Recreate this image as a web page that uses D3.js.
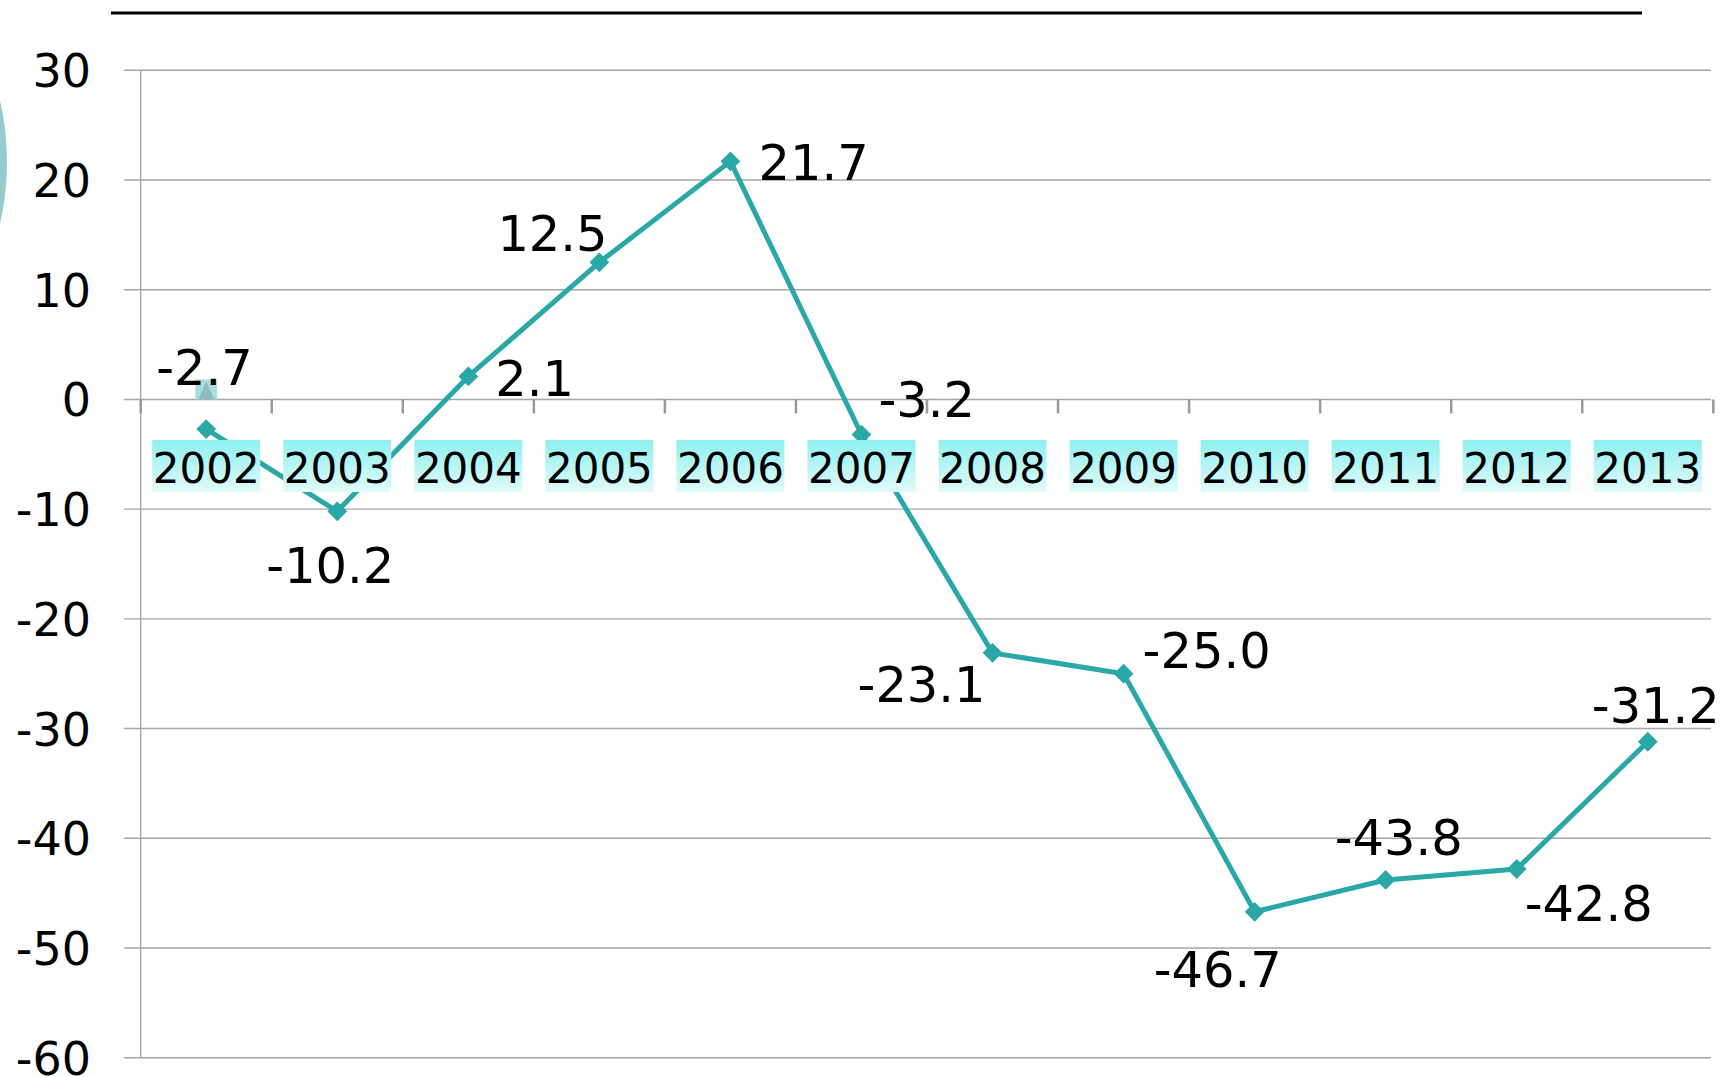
<!DOCTYPE html>
<html>
<head>
<meta charset="utf-8">
<script src="https://cdn.jsdelivr.net/npm/d3@7"></script>
<style>
  html, body { margin: 0; padding: 0; background: #fff; }
  svg { display: block; }
</style>
</head>
<body>
<svg id="chart"></svg>
<script>
// data
const years = ["2002","2003","2004","2005","2006","2007","2008","2009","2010","2011","2012","2013"];
const values = [-2.7, -10.2, 2.1, 12.5, 21.7, -3.2, -23.1, -25.0, -46.7, -43.8, -42.8, -31.2];
const yTicks = [30, 20, 10, 0, -10, -20, -30, -40, -50, -60];

const width = 1728, height = 1077;
const line_color = "#2aa8a8";
const grid_color = "#a6a6a6";

// label offsets from the point (left edge, baseline), placed by hand like the original
const label_dx = [-50, -71, 27, -102, 28, 17, -135, 19, -101, -51, 8, -56];
const label_dy = [-44, 72, 20, -11, 19, -18, 49, -6, 75, -25, 52, -19];

const svg = d3.select("#chart")
    .attr("width", width)
    .attr("height", height);

const x = d3.scaleBand()
    .domain(years)
    .range([140.7, 1713.3])
    .padding(0);

const y = d3.scaleLinear()
    .domain([-60, 30])
    .range([1057.7, 70.3]);

// decoration: partial circle at left edge
svg.append("circle")
    .attr("cx", 7 - 274)
    .attr("cy", 162)
    .attr("r", 274)
    .attr("fill", "#96cbcb");

// top rule
svg.append("line")
    .attr("x1", 111).attr("x2", 1642)
    .attr("y1", 13).attr("y2", 13)
    .attr("stroke", "#000")
    .attr("stroke-width", 3);

// gridlines
svg.append("g")
    .selectAll("line")
    .data(yTicks)
    .join("line")
    .attr("x1", 124).attr("x2", 1711)
    .attr("y1", d => y(d)).attr("y2", d => y(d))
    .attr("stroke", grid_color)
    .attr("stroke-width", 1.4);

// y axis line
svg.append("line")
    .attr("x1", x.range()[0]).attr("x2", x.range()[0])
    .attr("y1", y(30)).attr("y2", y(-60))
    .attr("stroke", grid_color)
    .attr("stroke-width", 1.4);

// y labels
svg.append("g")
    .selectAll("text")
    .data(yTicks)
    .join("text")
    .attr("x", 91)
    .attr("y", d => y(d) + 17)
    .attr("text-anchor", "end")
    .attr("font-family", "'DejaVu Sans', Verdana, sans-serif")
    .attr("font-size", 46)
    .attr("fill", "#000")
    .text(d => d);

// category boundary ticks on the zero line
const tickPos = years.map(d => x(d)).concat([x.range()[1]]);
svg.append("g")
    .selectAll("line")
    .data(tickPos)
    .join("line")
    .attr("x1", d => d).attr("x2", d => d)
    .attr("y1", y(0)).attr("y2", y(0) + 14)
    .attr("stroke", "#999")
    .attr("stroke-width", 2.5);

// odd little marker near 2002
const mx = x("2002") + x.bandwidth() / 2;
svg.append("rect")
    .attr("x", mx - 11).attr("y", y(0) - 20)
    .attr("width", 22).attr("height", 20)
    .attr("fill", "#a6dede");
svg.append("path")
    .attr("d", `M${mx - 8},${y(0)} L${mx},${y(0) - 18} L${mx + 8},${y(0)} Z`)
    .attr("fill", "#8cbcbc");

// line
const pts = values.map((v, i) => [x(years[i]) + x.bandwidth() / 2, y(v)]);
svg.append("path")
    .attr("d", d3.line()(pts))
    .attr("fill", "none")
    .attr("stroke", line_color)
    .attr("stroke-width", 5)
    .attr("stroke-linejoin", "round");

svg.append("g")
    .selectAll("path")
    .data(pts)
    .join("path")
    .attr("transform", d => `translate(${d[0]},${d[1]})`)
    .attr("d", d3.symbol(d3.symbolDiamond2, 250))
    .attr("fill", line_color);

// year label boxes (sit on top of the line)
const defs = svg.append("defs");
const grad = defs.append("linearGradient")
    .attr("id", "yearGrad")
    .attr("x1", 0).attr("y1", 0).attr("x2", 0).attr("y2", 1);
grad.append("stop").attr("offset", "0%").attr("stop-color", "#8ef0f0");
grad.append("stop").attr("offset", "100%").attr("stop-color", "#e2fafa");

const yearG = svg.append("g")
    .selectAll("g")
    .data(years)
    .join("g")
    .attr("transform", d => `translate(${x(d) + x.bandwidth() / 2},0)`);

yearG.append("rect")
    .attr("x", -54).attr("y", 440)
    .attr("width", 108).attr("height", 52)
    .attr("fill", "url(#yearGrad)");

yearG.append("text")
    .attr("x", 0).attr("y", 483)
    .attr("text-anchor", "middle")
    .attr("font-family", "'DejaVu Sans', Verdana, sans-serif")
    .attr("font-size", 42)
    .attr("fill", "#000")
    .text(d => d);

// value labels
svg.append("g")
    .selectAll("text")
    .data(values)
    .join("text")
    .attr("x", (d, i) => pts[i][0] + label_dx[i])
    .attr("y", (d, i) => pts[i][1] + label_dy[i])
    .attr("font-family", "'DejaVu Sans', Verdana, sans-serif")
    .attr("font-size", 49.5)
    .attr("fill", "#000")
    .text(d => d.toFixed(1));
</script>
</body>
</html>
